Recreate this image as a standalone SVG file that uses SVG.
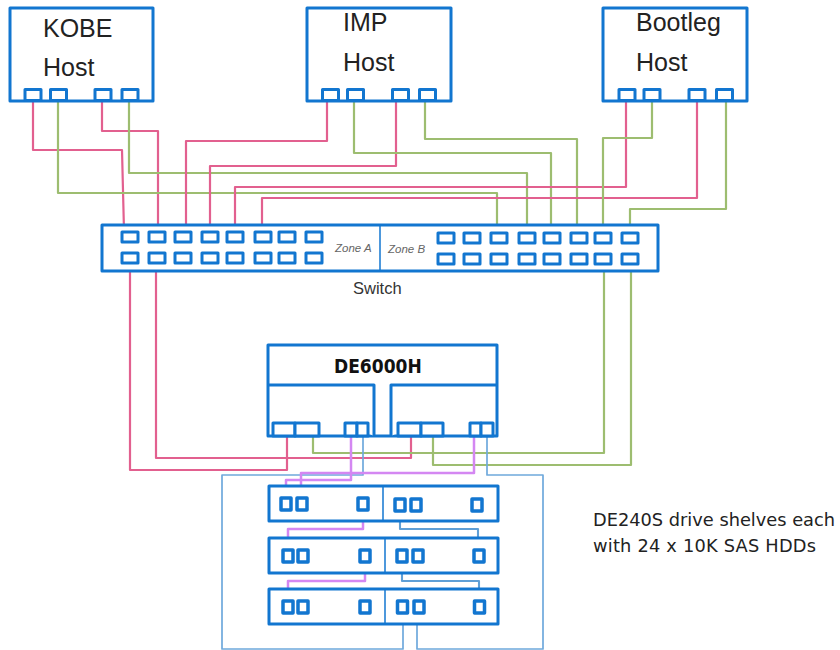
<svg xmlns="http://www.w3.org/2000/svg" width="840" height="650" viewBox="0 0 840 650">
<style>
.box{fill:#fff;stroke:#1276d0;stroke-width:3;stroke-linejoin:round}
.port{fill:#fff;stroke:#1276d0;stroke-width:3;stroke-linejoin:round}
.sp{fill:#fff;stroke:#1276d0;stroke-width:3.5;stroke-linejoin:round}
.thin{fill:none;stroke:#1276d0;stroke-width:1.5}
.w{fill:none;stroke-width:2.2;stroke-linejoin:round}
.pink{stroke:#e2608f}
.green{stroke:#9dbd70}
.purple{stroke:#d487f2;stroke-width:2.5}
.blue{stroke:#6fa9dc;stroke-width:1.7}
.link{stroke:#5f9fd6;stroke-width:2.1}
.h{font-family:"Liberation Sans",Arial,sans-serif;font-size:25px;fill:#222}
.zone{font-family:"Liberation Sans",Arial,sans-serif;font-size:11.5px;font-style:italic;fill:#666}
.sw{font-family:"Liberation Sans",Arial,sans-serif;font-size:16.5px;fill:#333}
.t{font-family:"DejaVu Sans",sans-serif;font-size:17.8px;fill:#222}
</style>
<g id="connectors">
<path class="w pink" d="M33 101V150H122L124 231"/>
<path class="w pink" d="M102 101V131H158V231"/>
<path class="w green" d="M58 101V193H497V230"/>
<path class="w green" d="M129 101V173H527V231"/>
<path class="w pink" d="M327 101V141H186V231"/>
<path class="w pink" d="M396 101V166H210V231"/>
<path class="w green" d="M354 101V153H551V231"/>
<path class="w green" d="M425 101V139H577V231"/>
<path class="w pink" d="M626 101V187H235V231"/>
<path class="w pink" d="M697 101V198H262V231"/>
<path class="w green" d="M652 101V138H603V231"/>
<path class="w green" d="M726 101V209H630V231"/>
<path class="w pink" d="M130 264V470H287V436"/>
<path class="w pink" d="M156 264V458H411V436"/>
<path class="w green" d="M604 264V453H313V436"/>
<path class="w green" d="M631 264V465H433V436"/>
<path class="w blue" d="M363 436V475H222V649H403V617"/>
<path class="w blue" d="M487 436V475H543V649H417V617"/>
<path class="w purple" d="M351 436V480H286V497"/>
<path class="w purple" d="M474 436V473H301V497"/>
<path class="w purple" d="M363 511V529H288V549"/>
<path class="w purple" d="M365 563V581H288V600"/>
<path class="w link" d="M400 511V529H478V549"/>
<path class="w link" d="M402 563V581H479V600"/>
</g>
<g id="kobe-host">
<rect class="box" x="10" y="8" width="143" height="93"/>
<rect class="port" x="25" y="89.5" width="16" height="11"/><rect class="port" x="50.500" y="89.5" width="16" height="11"/><rect class="port" x="95" y="89.5" width="16" height="11"/><rect class="port" x="122" y="89.5" width="16" height="11"/>
<text class="h" x="43" y="37">KOBE</text><text class="h" x="43" y="76">Host</text>
</g>
<g id="imp-host">
<rect class="box" x="307" y="8" width="144" height="93"/>
<rect class="port" x="322.500" y="89.5" width="16" height="11"/><rect class="port" x="347.500" y="89.5" width="16" height="11"/><rect class="port" x="392.500" y="89.5" width="16" height="11"/><rect class="port" x="419.500" y="89.5" width="16" height="11"/>
<text class="h" x="343" y="31">IMP</text><text class="h" x="343" y="71">Host</text>
</g>
<g id="bootleg-host">
<rect class="box" x="603" y="8" width="144" height="93"/>
<rect class="port" x="619" y="89.5" width="16" height="11"/><rect class="port" x="644" y="89.5" width="16" height="11"/><rect class="port" x="689" y="89.5" width="16" height="11"/><rect class="port" x="716.500" y="89.5" width="16" height="11"/>
<text class="h" x="636" y="31">Bootleg</text><text class="h" x="636" y="71">Host</text>
</g>
<g id="switch">
<rect class="box" x="102" y="225" width="556" height="46"/>
<path class="thin" d="M380 225V271"/>
<rect class="port" x="122" y="232" width="16" height="10"/><rect class="port" x="149" y="232" width="16" height="10"/><rect class="port" x="175" y="232" width="16" height="10"/><rect class="port" x="202" y="232" width="16" height="10"/><rect class="port" x="227" y="232" width="16" height="10"/><rect class="port" x="255" y="232" width="16" height="10"/><rect class="port" x="279" y="232" width="16" height="10"/><rect class="port" x="306" y="232" width="16" height="10"/>
<rect class="port" x="122" y="253" width="16" height="10"/><rect class="port" x="149" y="253" width="16" height="10"/><rect class="port" x="175" y="253" width="16" height="10"/><rect class="port" x="202" y="253" width="16" height="10"/><rect class="port" x="227" y="253" width="16" height="10"/><rect class="port" x="255" y="253" width="16" height="10"/><rect class="port" x="279" y="253" width="16" height="10"/><rect class="port" x="306" y="253" width="16" height="10"/>
<rect class="port" x="438" y="233" width="16" height="10"/><rect class="port" x="464" y="233" width="16" height="10"/><rect class="port" x="491" y="233" width="16" height="10"/><rect class="port" x="519" y="233" width="16" height="10"/><rect class="port" x="544" y="233" width="16" height="10"/><rect class="port" x="571" y="233" width="16" height="10"/><rect class="port" x="595" y="233" width="16" height="10"/><rect class="port" x="622" y="233" width="16" height="10"/>
<rect class="port" x="438" y="254" width="16" height="10"/><rect class="port" x="464" y="254" width="16" height="10"/><rect class="port" x="491" y="254" width="16" height="10"/><rect class="port" x="519" y="254" width="16" height="10"/><rect class="port" x="544" y="254" width="16" height="10"/><rect class="port" x="571" y="254" width="16" height="10"/><rect class="port" x="595" y="254" width="16" height="10"/><rect class="port" x="622" y="254" width="16" height="10"/>
<text class="zone" x="335" y="252">Zone A</text><text class="zone" x="388" y="253">Zone B</text>
<text class="sw" x="353" y="294">Switch</text>
</g>
<g id="de6000h">
<rect class="box" x="268" y="345" width="229" height="91"/>
<path class="box" d="M268 385H374V436M497 385H391V436"/>
<rect class="port" x="273" y="423" width="22" height="13"/><rect class="port" x="295" y="423" width="24" height="13"/><rect class="port" x="345" y="423" width="12" height="13"/><rect class="port" x="357" y="423" width="11" height="13"/>
<rect class="port" x="398" y="423" width="23" height="13"/><rect class="port" x="421" y="423" width="22" height="13"/><rect class="port" x="470" y="423" width="11" height="13"/><rect class="port" x="481" y="423" width="12" height="13"/>
<text x="334" y="373" style="font-family:'DejaVu Sans Condensed','DejaVu Sans',sans-serif;font-size:19px;font-weight:bold;fill:#111">DE6000H</text>
</g>
<g id="shelf-1">
<rect class="box" x="269" y="486" width="229" height="35"/><path class="thin" d="M383 486V521"/>
<rect class="sp" x="281" y="498" width="10" height="12"/><rect class="sp" x="297" y="498" width="10" height="12"/><rect class="sp" x="358" y="498" width="10" height="12"/><rect class="sp" x="395" y="499" width="10" height="12"/><rect class="sp" x="411" y="499" width="10" height="12"/><rect class="sp" x="472" y="499" width="10" height="12"/>
</g>
<g id="shelf-2">
<rect class="box" x="269" y="538" width="229" height="35"/><path class="thin" d="M385 538V573"/>
<rect class="sp" x="283" y="550" width="10" height="12"/><rect class="sp" x="298" y="550" width="10" height="12"/><rect class="sp" x="360" y="550" width="10" height="12"/><rect class="sp" x="397" y="550" width="10" height="12"/><rect class="sp" x="413" y="550" width="10" height="12"/><rect class="sp" x="474" y="550" width="10" height="12"/>
</g>
<g id="shelf-3">
<rect class="box" x="269" y="589" width="229" height="35"/><path class="thin" d="M385 589V624"/>
<rect class="sp" x="283" y="601" width="10" height="12"/><rect class="sp" x="298" y="601" width="10" height="12"/><rect class="sp" x="360" y="601" width="10" height="12"/><rect class="sp" x="397.500" y="601" width="10" height="12"/><rect class="sp" x="414" y="601" width="10" height="12"/><rect class="sp" x="474.500" y="601" width="10" height="12"/>
</g>
<g id="shelf-label">
<text class="t" x="593" y="526" textLength="242" lengthAdjust="spacing">DE240S drive shelves each</text>
<text class="t" x="593" y="552" textLength="223" lengthAdjust="spacing">with 24 x 10K SAS HDDs</text>
</g>
</svg>
